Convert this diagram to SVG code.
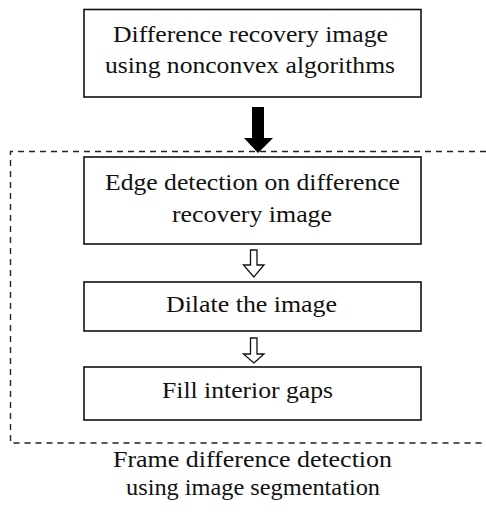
<svg xmlns="http://www.w3.org/2000/svg" width="486" height="521" viewBox="0 0 486 521">
<defs>
<style>
.box{fill:#fff;stroke:#111;stroke-width:1.6}
.t{font-family:"Liberation Serif","Times New Roman",serif;font-size:24px;fill:#111;text-anchor:middle}
.dash{fill:none;stroke:#222;stroke-width:1.4;stroke-dasharray:6 5}
.hollow{fill:#fff;stroke:#111;stroke-width:1.3;stroke-linejoin:miter}
</style>
</defs>
<rect width="486" height="521" fill="#fff"/>
<g id="group-frame">
<path class="dash" d="M486 151.5 H10.5 V443 H486"/>
</g>
<g id="node-recovery">
<rect class="box" x="84" y="9.5" width="337" height="87.5"/>
<text class="t" x="250.5" y="42" textLength="275" lengthAdjust="spacingAndGlyphs">Difference recovery image</text>
<text class="t" x="250" y="73" textLength="290" lengthAdjust="spacingAndGlyphs">using nonconvex algorithms</text>
</g>
<g id="node-edge">
<rect class="box" x="84" y="157" width="337" height="87"/>
<text class="t" x="252.5" y="190" textLength="295" lengthAdjust="spacingAndGlyphs">Edge detection on difference</text>
<text class="t" x="252" y="222" textLength="160" lengthAdjust="spacingAndGlyphs">recovery image</text>
</g>
<g id="node-dilate">
<rect class="box" x="84" y="282" width="337" height="49"/>
<text class="t" x="251.5" y="312" textLength="171" lengthAdjust="spacingAndGlyphs">Dilate the image</text>
</g>
<g id="node-fill">
<rect class="box" x="84" y="367" width="337" height="53"/>
<text class="t" x="247.5" y="398" textLength="171" lengthAdjust="spacingAndGlyphs">Fill interior gaps</text>
</g>
<g id="connectors">
<path fill="#000" d="M252 107 H264 V138 H273 L258 153 L244 138 H252 Z"/>
<path class="hollow" d="M250.5 250 H257 V265 H264 L253.8 277 L243.5 265 H250.5 Z"/>
<path class="hollow" d="M250.5 338 H257 V354 H264 L253.8 363 L243.5 354 H250.5 Z"/>
</g>
<g id="caption">
<text class="t" x="252.5" y="467" textLength="279" lengthAdjust="spacingAndGlyphs">Frame difference detection</text>
<text class="t" x="253" y="495" textLength="254" lengthAdjust="spacingAndGlyphs">using image segmentation</text>
</g>
</svg>
